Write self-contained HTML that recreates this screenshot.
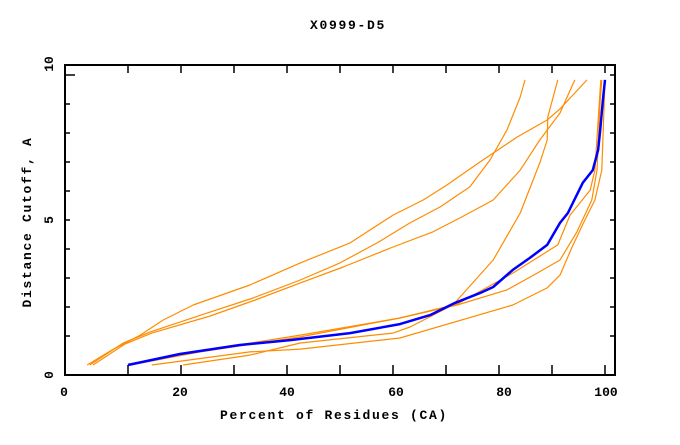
<!DOCTYPE html>
<html><head><meta charset="utf-8"><style>
body{margin:0;background:#fff;}
svg text{font-family:"Liberation Mono",monospace;font-weight:bold;font-size:13px;fill:#000;}
svg text.ttl{letter-spacing:1.7px;}
</style></head><body>
<svg id="chart" width="680" height="440" xmlns="http://www.w3.org/2000/svg">
<rect x="0" y="0" width="680" height="440" fill="#fff"/>
<text class="ttl" x="348" y="29" text-anchor="middle">X0999-D5</text>
<text class="ttl" x="334" y="419" text-anchor="middle">Percent of Residues (CA)</text>
<text class="ttl" transform="translate(31,222) rotate(-90)" text-anchor="middle">Distance Cutoff, A</text>
<g id="ticks"></g>
<g id="series"></g>
<rect x="65" y="65" width="550" height="310" fill="none" stroke="#000" stroke-width="2"/>
</svg>
<script>
const xTickLabels=["0","20","40","60","80","100"];
const xLabelPos=[64,180,287,396,504,606];
const yTickLabels=["0","5","10"];
const yLabelPos=[375,220,64];
const xTicks=[10,20,30,40,50,60,70,80,90,100];
const yTicks=[1,2,3,4,5,6,7,8,9,10];

const blueX=[10.0,19.8,31.1,40.6,51.9,61.3,67.0,71.7,76.4,78.9,82.6,85.8,89.1,91.5,93.0,95.8,97.7,98.7,99.1,99.6,100];
const blueY=[0,0.38,0.69,0.86,1.10,1.41,1.72,2.14,2.48,2.69,3.28,3.69,4.14,4.90,5.24,6.28,6.72,7.41,8.10,9.14,9.83];

const aX=[2.3,7.0,12.3,16.6,22.3,33.0,42.5,51.9,60.0,65.7,70.2,76.4,83.4,89.1,91.5,96.6];
const aY=[0,0.52,1.03,1.55,2.07,2.76,3.52,4.21,5.17,5.69,6.21,7.0,7.86,8.45,8.83,9.83];
const bX=[2.8,9.1,14.2,24.9,33.6,42.5,50.0,57.0,63.2,68.9,74.5,78.3,81.5,84.0,84.9];
const bY=[0,0.76,1.14,1.79,2.31,2.93,3.52,4.21,4.90,5.45,6.14,7.07,8.10,9.24,9.83];
const cX=[3.4,9.4,14.5,25.5,34.0,42.5,50.6,60.0,67.5,72.6,78.9,84.0,87.7,91.5,94.3];
const cY=[0,0.72,1.10,1.69,2.24,2.83,3.38,4.07,4.59,5.07,5.69,6.72,7.76,8.69,9.83];
const dX=[20.4,33.0,42.5,60.0,63.2,71.3,78.9,84.0,87.7,89.1,89.2,91.1];
const dY=[0,0.34,0.76,1.10,1.31,2.07,3.62,5.24,6.97,7.76,8.55,9.83];
const eX=[14.5,33.0,42.5,61.3,82.6,89.1,91.5,93.8,96.2,98.1,99.4,100];
const eY=[0,0.45,0.55,0.93,2.07,2.66,3.10,4.07,5.0,5.69,6.72,9.83];
const fX=[10.4,23.6,42.5,61.3,72.1,81.5,87.2,91.5,94.7,97.5,98.5,99.1,99.4];
const fY=[0,0.45,0.97,1.62,2.07,2.59,3.17,3.62,4.59,5.69,6.72,9.14,9.83];
const gX=[10.0,23.6,42.5,61.3,72.1,82.6,91.1,93.4,97.2,98.1,99.2];
const gY=[0.03,0.48,1.03,1.62,2.10,3.17,4.14,5.17,6.03,6.72,9.83];

const NS="http://www.w3.org/2000/svg";
function sx(v){return 75+5.3*v;}
function sy(v){return 365-29*v;}
const tg=document.getElementById('ticks');
const sg=document.getElementById('series');
function line(x1,y1,x2,y2){const l=document.createElementNS(NS,'line');l.setAttribute('x1',x1);l.setAttribute('y1',y1);l.setAttribute('x2',x2);l.setAttribute('y2',y2);l.setAttribute('stroke','#000');l.setAttribute('stroke-width','1.5');return l;}
xTicks.forEach(v=>{
  const b=line(sx(v),375,sx(v),365);
  
  
  tg.appendChild(b);
  const t=line(sx(v),65,sx(v),73);
  
  
  tg.appendChild(t);
});
yTicks.forEach(v=>{
  const len=v===10?10:5;
  const l=line(65,sy(v),65+len,sy(v));
  
  
  tg.appendChild(l);
  const r=line(615,sy(v),610,sy(v));
  
  
  tg.appendChild(r);
});
xTickLabels.forEach((s,i)=>{
  const t=document.createElementNS(NS,'text');
  t.setAttribute('x',xLabelPos[i]);t.setAttribute('y',396);t.setAttribute('text-anchor','middle');
  t.textContent=s;
  
  
  tg.appendChild(t);
});
yTickLabels.forEach((s,i)=>{
  const t=document.createElementNS(NS,'text');
  t.setAttribute('transform','translate(53,'+yLabelPos[i]+') rotate(-90)');t.setAttribute('text-anchor','middle');
  t.textContent=s;
  
  
  tg.appendChild(t);
});
function path(xs,ys,color,w,name){
  const p=document.createElementNS(NS,'polyline');
  p.setAttribute('points',xs.map((x,i)=>sx(x).toFixed(1)+','+sy(ys[i]).toFixed(1)).join(' '));
  p.setAttribute('fill','none');p.setAttribute('stroke',color);p.setAttribute('stroke-width',w);
  p.setAttribute('stroke-linejoin','round');
  
  
  sg.appendChild(p);
}
path(aX,aY,'#ff8c00',1.2,'orange-series-a');
path(bX,bY,'#ff8c00',1.2,'orange-series-b');
path(cX,cY,'#ff8c00',1.2,'orange-series-c');
path(dX,dY,'#ff8c00',1.2,'orange-series-d');
path(eX,eY,'#ff8c00',1.2,'orange-series-e');
path(fX,fY,'#ff8c00',1.2,'orange-series-f');
path(gX,gY,'#ff8c00',1.2,'orange-series-g');
path(blueX,blueY,'#0000ff',2.5,'blue-series');
</script>
</body></html>
